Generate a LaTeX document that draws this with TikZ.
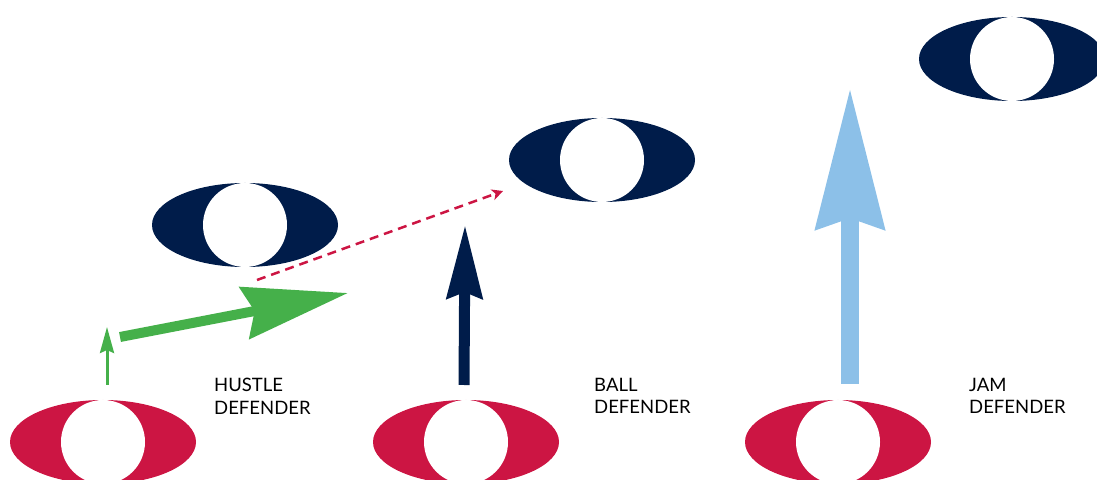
\documentclass[tikz,border=0pt]{standalone}
\usepackage{fontspec}
\setmainfont{Lato}
\usetikzlibrary{shapes.geometric,arrows.meta}
\definecolor{navy}{HTML}{001C4A}
\definecolor{crimson}{HTML}{CC1543}
\definecolor{grass}{HTML}{45B04A}
\definecolor{sky}{HTML}{8CC0E8}
\tikzset{
  player/.style={ellipse,fill=#1,minimum width=186pt,minimum height=84pt,inner sep=0pt,
    path picture={\fill[white] (path picture bounding box.center) circle (42pt);}},
  role/.style={anchor=north west,inner sep=0pt,align=left,font=\fontsize{18.5}{22.5}\selectfont},
}

\begin{document}
\begin{tikzpicture}[x=1pt,y=1pt]
\useasboundingbox (0,0) rectangle (1097,479);
% attackers
\node (a1) at (245,254) [player=navy] {};
\node (a2) at (602,319) [player=navy] {};
\node (a3) at (1012,420) [player=navy] {};
% defenders
\node (d1) at (103,37) [player=crimson] {};
\node (d2) at (466,37) [player=crimson] {};
\node (d3) at (838,37) [player=crimson] {};
\node (hustle) at (214,101) [role] {HUSTLE\\DEFENDER};
\node (ball) at (594,101) [role] {BALL\\DEFENDER};
\node (jam) at (969,101) [role] {JAM\\DEFENDER};
% moves
\coordinate (h0) at (107,94);
\coordinate (h1) at (107,152);
\coordinate (h2) at (120,142);
\coordinate (h3) at (348,186);
\coordinate (b0) at (464,94);
\coordinate (b1) at (465,254);
\coordinate (j0) at (850,95);
\coordinate (j1) at (850,391);
\coordinate (p0) at (257,199);
\coordinate (p1) at (503,288);
\draw [-{Stealth[length=26pt,width=14pt,inset=3pt]},line width=3pt,grass] (h0) -- (h1);
\draw [-{Stealth[length=105pt,width=52pt,inset=10pt]},line width=10pt,grass] (h2) -- (h3);
\draw [-{Stealth[length=73pt,width=35pt,inset=6pt]},line width=11pt,navy] (b0) -- (b1);
\draw [-{Stealth[length=140pt,width=67pt,inset=10pt]},line width=18pt,sky] (j0) -- (j1);
\draw [-{Stealth[length=11pt,width=11pt,inset=3pt]},line width=2.5pt,crimson,dash pattern=on 9pt off 6pt] (p0) -- (p1);
\end{tikzpicture}
\end{document}
